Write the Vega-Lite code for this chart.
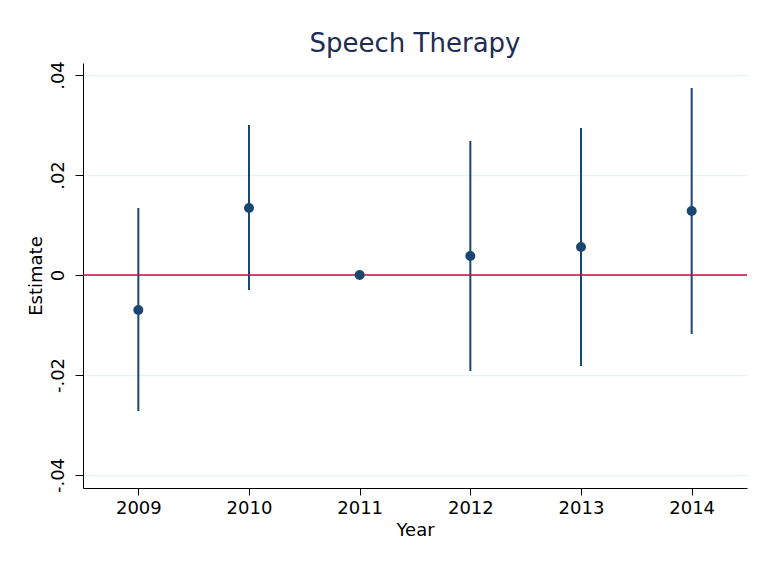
{
  "$schema": "https://vega.github.io/schema/vega-lite/v6.json",
  "width": 664,
  "height": 425,
  "autosize": {"type": "none"},
  "padding": {"left": 83, "top": 63, "right": 20, "bottom": 73},
  "background": "white",
  "config": {
    "font": "DejaVu Sans",
    "view": {"stroke": null},
    "axis": {"labelFont": "DejaVu Sans", "titleFont": "DejaVu Sans", "titleFontWeight": "normal"}
  },
  "title": {
    "text": "Speech Therapy",
    "fontSize": 26,
    "fontWeight": "normal",
    "color": "#1e2d53",
    "anchor": "middle",
    "offset": 4
  },
  "data": {
    "values": [
      {"year": 2009, "est": -0.007, "lo": -0.0272, "hi": 0.0134},
      {"year": 2010, "est": 0.0134, "lo": -0.003, "hi": 0.030},
      {"year": 2011, "est": 0.0, "lo": 0.0, "hi": 0.0},
      {"year": 2012, "est": 0.0038, "lo": -0.0192, "hi": 0.0268},
      {"year": 2013, "est": 0.0056, "lo": -0.0182, "hi": 0.0294},
      {"year": 2014, "est": 0.0128, "lo": -0.0118, "hi": 0.0374}
    ]
  },
  "encoding": {
    "x": {
      "field": "year",
      "type": "quantitative",
      "scale": {"domain": [2008.5, 2014.5], "nice": false, "zero": false},
      "axis": {
        "title": "Year",
        "values": [2009, 2010, 2011, 2012, 2013, 2014],
        "format": "d",
        "grid": false,
        "domainColor": "#000000",
        "tickColor": "#000000",
        "tickSize": 7,
        "labelFontSize": 18,
        "labelColor": "#000000",
        "labelPadding": 4,
        "titleFontSize": 18,
        "titleColor": "#000000",
        "titlePadding": 4
      }
    }
  },
  "layer": [
    {
      "mark": {"type": "rule", "color": "#1a476f", "strokeWidth": 2},
      "encoding": {
        "y": {"field": "lo", "type": "quantitative"},
        "y2": {"field": "hi"}
      }
    },
    {
      "data": {"values": [{"v": 0}]},
      "mark": {"type": "rule", "color": "#c0123f", "strokeWidth": 1.5},
      "encoding": {
        "y": {"field": "v", "type": "quantitative"},
        "x": {"value": 0},
        "x2": {"value": 664}
      }
    },
    {
      "mark": {"type": "point", "filled": true, "color": "#1a476f", "size": 100, "opacity": 1},
      "encoding": {
        "y": {
          "field": "est",
          "type": "quantitative",
          "scale": {"domain": [-0.0426, 0.0424], "nice": false, "zero": false},
          "axis": {
            "title": "Estimate",
            "values": [-0.04, -0.02, 0, 0.02, 0.04],
            "labelExpr": "datum.value == 0 ? '0' : replace(replace(format(datum.value, '.2f'), '0.', '.'), '\u2212', '-')",
            "labelAngle": -90,
            "labelAlign": "center",
            "labelBaseline": "alphabetic",
            "labelPadding": 12,
            "labelFontSize": 18,
            "labelColor": "#000000",
            "grid": true,
            "gridColor": "#eaf2f3",
            "gridWidth": 1.5,
            "domainColor": "#000000",
            "tickColor": "#000000",
            "tickSize": 8,
            "titleFontSize": 18,
            "titleColor": "#000000",
            "titlePadding": 4
          }
        }
      }
    }
  ]
}
